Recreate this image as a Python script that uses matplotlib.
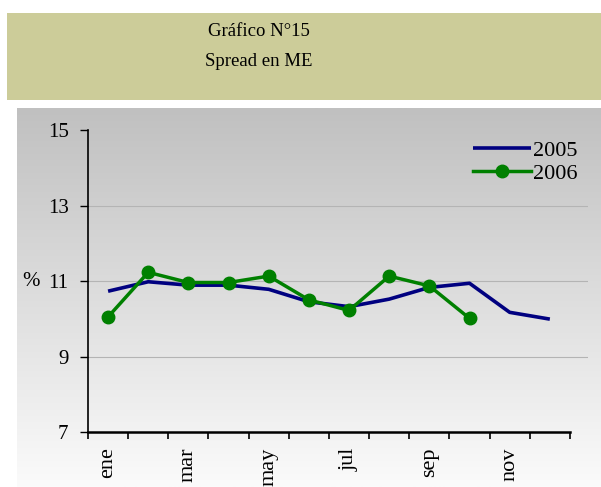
import numpy as np
import matplotlib.pyplot as plt

plt.rcParams['font.family'] = ['Liberation Serif', 'DejaVu Serif']

months = ['ene', 'feb', 'mar', 'abr', 'may', 'jun', 'jul', 'ago', 'sep', 'oct', 'nov', 'dic']
spread_2005 = [10.73, 10.98, 10.89, 10.89, 10.78, 10.45, 10.32, 10.52, 10.83, 10.94, 10.17, 9.99]
spread_2006 = [10.05, 11.23, 10.96, 10.96, 11.13, 10.50, 10.22, 11.13, 10.87, 10.01]
y_ticks = [7, 9, 11, 13, 15]

W, H = 601, 487
fig = plt.figure(figsize=(W / 100, H / 100), dpi=100)

# title box
tbox = fig.add_axes([7 / W, 1 - 100 / H, 1 - 7 / W, 87 / H])
tbox.set_facecolor('#cccc99')
tbox.set_xticks([])
tbox.set_yticks([])
for s in tbox.spines.values():
    s.set_visible(False)
fig.text(259 / W, 1 - 31 / H, 'Gráfico N°15', ha='center', va='center', fontsize=13.5)
fig.text(259 / W, 1 - 62 / H, 'Spread en ME', ha='center', va='center', fontsize=13.5)

# gradient background of chart area
bg = fig.add_axes([17 / W, 0, 1 - 17 / W, (H - 108) / H])
grad = np.linspace(192, 251, 256)[:, None] / 255.0
bg.imshow(np.dstack([grad, grad, grad]), aspect='auto', extent=[0, 1, 0, 1], origin='upper')
bg.set_axis_off()

ax = fig.add_axes([88 / W, (H - 432) / H, (588 - 88) / W, 302 / H])
ax.patch.set_alpha(0)
x05 = np.arange(len(spread_2005))
x06 = np.arange(len(spread_2006))
ax.plot(x05, spread_2005, color='#000080', lw=2.6, label='2005', solid_capstyle='butt')
ax.plot(x06, spread_2006, color='#008000', lw=2.5, marker='o', ms=9, label='2006')

n = len(months)
ax.set_xlim(-0.5, n - 0.5 + 0.45)
ax.set_ylim(7, 15)
ax.set_yticks(y_ticks)
ax.set_xticks(np.arange(-0.5, n), minor=True)
ax.set_xticks(x05[::2])
ax.set_xticklabels(months[::2], rotation=90)
ax.tick_params(axis='x', which='major', length=0, pad=11, labelsize=16)
ax.tick_params(axis='x', which='minor', length=5, width=1.2, direction='out')
ax.tick_params(axis='y', length=6, width=1, direction='out', pad=8, labelsize=15)
for s in ['top', 'right']:
    ax.spines[s].set_visible(False)
ax.spines['left'].set_linewidth(1.2)
ax.spines['bottom'].set_linewidth(1.8)
ax.spines['bottom'].set_bounds(-0.5, n - 0.5)

ax.yaxis.grid(True, color='#b4b4b4', lw=0.8)
gls = ax.get_ygridlines()
gls[0].set_visible(False)
gls[-1].set_visible(False)
ax.set_axisbelow(True)

ax.set_ylabel('%', rotation=0, fontsize=15, labelpad=12, va='center')

ax.legend(loc='upper right', bbox_to_anchor=(0.997, 0.995), frameon=False, fontsize=16,
          handlelength=2.6, handletextpad=0.1, labelspacing=0.12, borderaxespad=0)

fig.savefig('out.png', dpi=100)
